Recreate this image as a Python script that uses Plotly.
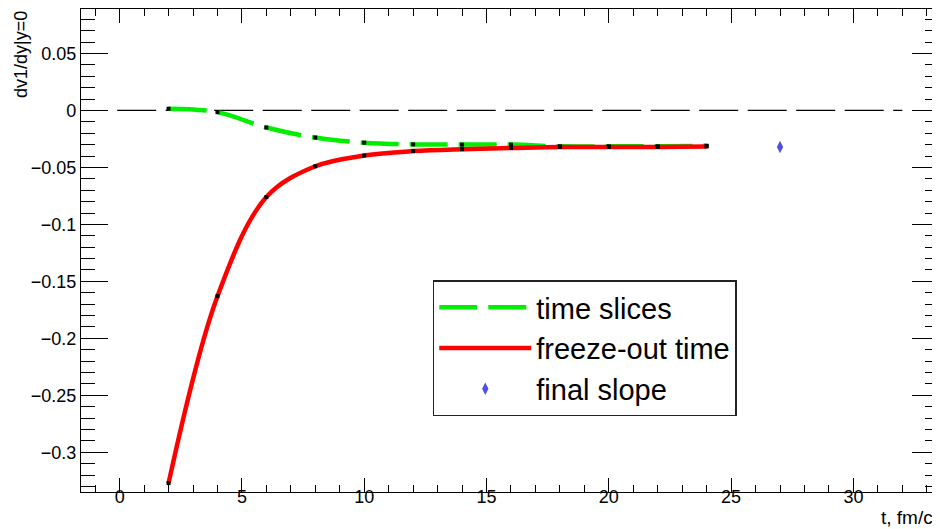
import plotly.graph_objects as go

# ---- data ----
t_points = [2, 4, 6, 8, 10, 12, 14, 16, 18, 20, 22, 24]
time_slices = [0.0015, -0.0015, -0.015, -0.0238, -0.0283, -0.0298, -0.0300,
               -0.0300, -0.0315, -0.0315, -0.0315, -0.0310]
freeze_out = [-0.327, -0.163, -0.076, -0.049, -0.0396, -0.0357, -0.0340,
              -0.0330, -0.0321, -0.0321, -0.0321, -0.0316]
final_t = [27]
final_slope = [-0.0321]
zero_line_x = [-0.1, 32]
zero_line_y = [0, 0]

x_tickvals = [0, 5, 10, 15, 20, 25, 30]
y_tickvals = [0.05, 0, -0.05, -0.1, -0.15, -0.2, -0.25, -0.3]
y_ticktext = ["0.05", "0", "\u22120.05", "\u22120.1", "\u22120.15", "\u22120.2", "\u22120.25", "\u22120.3"]

FONT = "Liberation Sans, Arial, sans-serif"

fig = go.Figure()

# zero reference line
fig.add_trace(go.Scatter(x=zero_line_x, y=zero_line_y, mode="lines",
                         line=dict(color="black", width=1.2, dash="39px,9.5px"),
                         showlegend=False, hoverinfo="skip"))

# time slices curve
fig.add_trace(go.Scatter(x=t_points, y=time_slices, mode="lines", name="time slices",
                         line=dict(color="#00ee00", width=4.5, dash="38px,11px",
                                   shape="spline", smoothing=1.0),
                         legendgroup="a"))
# freeze-out curve
fig.add_trace(go.Scatter(x=t_points, y=freeze_out, mode="lines", name="freeze-out time",
                         line=dict(color="#ff0000", width=4.5, shape="spline", smoothing=1.0),
                         legendgroup="b"))
# point markers
fig.add_trace(go.Scatter(x=t_points, y=time_slices, mode="markers",
                         marker=dict(symbol="square", size=4, color="black"),
                         showlegend=False))
fig.add_trace(go.Scatter(x=t_points, y=freeze_out, mode="markers",
                         marker=dict(symbol="square", size=4, color="black"),
                         showlegend=False))
# final slope
fig.add_trace(go.Scatter(x=final_t, y=final_slope, mode="markers", name="final slope",
                         marker=dict(symbol="diamond-tall", size=9, color="#5050e8"),
                         legendgroup="c"))

axis_common = dict(showline=True, linecolor="black", linewidth=1.2, mirror="ticks",
                   ticks="inside", tickcolor="black", showgrid=False, zeroline=False,
                   automargin=False,
                   tickfont=dict(family=FONT, size=18, color="black"))

X_RANGE = [-1.58, 33.5]

fig.update_xaxes(range=X_RANGE, tickvals=x_tickvals, ticklen=14, tickwidth=1.2,
                 showticklabels=False,
                 minor=dict(dtick=1, tick0=0, ticks="inside", ticklen=7, tickcolor="black",
                            tickwidth=1.2, showgrid=False),
                 **axis_common)
fig.update_yaxes(range=[-0.3348, 0.089], tickvals=y_tickvals, ticktext=y_ticktext,
                 ticklen=27, tickwidth=1.2,
                 minor=dict(dtick=0.01, tick0=0, ticks="inside", ticklen=13.5, tickcolor="black",
                            tickwidth=1.2, showgrid=False),
                 **axis_common)

# the page body has an 8px margin, so the figure is sized to fill the rest
fig.update_layout(
    width=932, height=521,
    margin=dict(l=73, r=1, t=1, b=37),
    paper_bgcolor="white", plot_bgcolor="white",
    font=dict(family=FONT, color="black"),
    # label-only x axis, sitting slightly higher so labels hug the frame like ROOT
    xaxis2=dict(matches="x", overlaying="x", anchor="free", position=0.017, side="bottom",
                range=X_RANGE, tickvals=x_tickvals, showline=False, ticks="",
                showgrid=False, zeroline=False, automargin=False,
                tickfont=dict(family=FONT, size=18, color="black")),
    legend=dict(x=0.41, y=0.438, xanchor="left", yanchor="top",
                bgcolor="white", bordercolor="#222222", borderwidth=1.5,
                font=dict(family=FONT, size=29, color="black"),
                itemwidth=92, tracegroupgap=0, traceorder="grouped"),
    annotations=[
        dict(text="dv1/dy|y=0", xref="paper", yref="paper", x=-0.0705, y=1.0,
             xanchor="center", yanchor="top", textangle=-90, showarrow=False,
             font=dict(family=FONT, size=18, color="black")),
        dict(text="t, fm/c", xref="paper", yref="paper", x=0.995, y=-0.026,
             xanchor="right", yanchor="top", showarrow=False,
             font=dict(family=FONT, size=19, color="black")),
    ],
)

# an invisible trace binds the label axis to the figure
fig.add_trace(go.Scatter(x=[final_t[0]], y=[final_slope[0]], xaxis="x2", mode="markers",
                         marker=dict(opacity=0), showlegend=False, hoverinfo="skip"))

fig.write_html("out.html")
